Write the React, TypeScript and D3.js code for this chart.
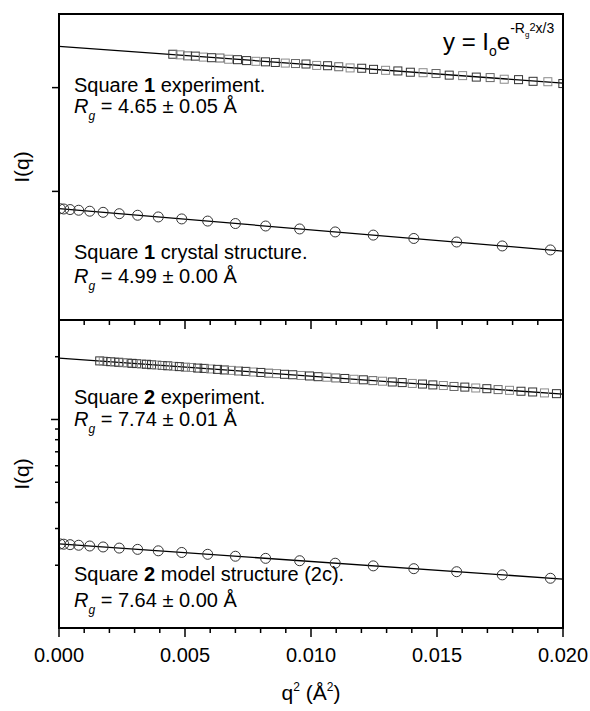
import * as d3 from "d3";

// q^2 positions of the computed (structure) curves, shared by both panels
const q2Model = [
  0.00005, 0.00019, 0.00044, 0.00078, 0.00122, 0.00175, 0.00239, 0.00312, 0.00394, 0.00487,
  0.0059, 0.007, 0.0082, 0.00955, 0.01096, 0.01247, 0.01408, 0.01578, 0.01759, 0.0195,
];
const iCrystal1 = [
  1.869, 1.867, 1.863, 1.858, 1.851, 1.843, 1.833, 1.822, 1.81, 1.796,
  1.781, 1.764, 1.747, 1.727, 1.707, 1.686, 1.664, 1.641, 1.616, 1.591,
];
const iModel2 = [
  0.253, 0.2523, 0.251, 0.2494, 0.2473, 0.2447, 0.2417, 0.2383, 0.2345, 0.2303,
  0.2257, 0.2209, 0.2158, 0.2102, 0.2045, 0.1986, 0.1925, 0.1862, 0.1798, 0.1732,
];

// square 1 experiment
const q2Exp1 = [
  0.004516, 0.004805, 0.005104, 0.005411, 0.005727, 0.006053, 0.006387, 0.006731, 0.007083,
  0.007444, 0.007815, 0.008194, 0.008582, 0.008979, 0.009386, 0.009801, 0.010225, 0.010658,
  0.011101, 0.011552, 0.012012, 0.012481, 0.01296, 0.013447, 0.013943, 0.014448, 0.014962,
  0.015485, 0.016017, 0.016559, 0.017109, 0.017668, 0.018236, 0.018813, 0.019399, 0.019994,
];
const iExp1 = [
  3.418, 3.41, 3.396, 3.393, 3.38, 3.372, 3.368, 3.352, 3.346,
  3.334, 3.325, 3.318, 3.31, 3.302, 3.296, 3.29, 3.272, 3.268,
  3.255, 3.24, 3.236, 3.222, 3.21, 3.202, 3.186, 3.18, 3.17,
  3.15, 3.144, 3.126, 3.12, 3.1, 3.095, 3.075, 3.07, 3.048,
];

// square 2 experiment
const q2Exp2 = [
  0.001616, 0.001756, 0.001901, 0.002052, 0.002209, 0.002372, 0.00254, 0.002714, 0.002894, 0.00308,
  0.003272, 0.003469, 0.003672, 0.003881, 0.004096, 0.004316, 0.004543, 0.004775, 0.005013, 0.005256,
  0.005506, 0.005761, 0.006022, 0.006288, 0.006561, 0.006839, 0.007123, 0.007413, 0.007709, 0.00801,
  0.008317, 0.00863, 0.008949, 0.009274, 0.009604, 0.00994, 0.010282, 0.01063, 0.010983, 0.011342,
  0.011707, 0.012078, 0.012455, 0.012837, 0.013225, 0.013619, 0.014019, 0.014424, 0.014835, 0.015252,
  0.015675, 0.016104, 0.016538, 0.016978, 0.017424, 0.017876, 0.018333, 0.018796, 0.019265, 0.01974,
];
const iExp2 = [
  1.91, 1.904, 1.897, 1.893, 1.885, 1.881, 1.873, 1.868, 1.859, 1.854,
  1.845, 1.84, 1.831, 1.825, 1.815, 1.809, 1.799, 1.793, 1.782, 1.776,
  1.764, 1.758, 1.747, 1.739, 1.728, 1.72, 1.708, 1.701, 1.689, 1.681,
  1.668, 1.66, 1.647, 1.639, 1.626, 1.617, 1.604, 1.595, 1.582, 1.573,
  1.559, 1.55, 1.536, 1.526, 1.513, 1.503, 1.489, 1.479, 1.465, 1.455,
  1.44, 1.43, 1.416, 1.405, 1.391, 1.38, 1.366, 1.355, 1.341, 1.33,
];

// Guinier fit lines (straight on a log axis), end points
const fitQ2 = [0, 0.02];
const fitExp1 = [3.526, 3.053];
const fitCrystal1 = [1.87, 1.584];
const fitExp2 = [1.971, 1.322];
const fitModel2 = [0.2532, 0.1716];

const xMajorTicks = [0, 0.005, 0.01, 0.015, 0.02];
const xTickLabels = ["0.000", "0.005", "0.010", "0.015", "0.020"];
const topYTicks = [2, 3];
const botYMajor = [1];
const botYMinor = [0.2, 0.3, 0.4, 0.5, 0.6, 0.7, 0.8, 0.9, 2];

const W = 590;
const H = 711;
const left = 59;
const right = 563;
const top = 14;
const mid = 320;
const bottom = 628;
const font = "'Liberation Sans', Arial, Helvetica, sans-serif";

const x = d3.scaleLinear().domain([0, 0.02]).range([left, right]);
const xMinor = x.ticks(20);
const yTop = d3.scaleLog().domain([1.21, 4]).range([mid, top]);
const yBot = d3.scaleLog().domain([0.1, 3]).range([bottom, mid]);

function Squares({ xs, ys, y, clip }) {
  return (
    <g clipPath={`url(#${clip})`}>
      {xs.map((q, i) => (
        <rect
          key={i}
          x={x(q) - 4}
          y={y(ys[i]) - 4}
          width={8}
          height={8}
          fill="none"
          stroke={i % 3 === 1 ? "#8a8a8a" : i % 4 === 2 ? "#666" : "#333"}
          strokeWidth={1}
        />
      ))}
    </g>
  );
}

function Circles({ xs, ys, y, clip }) {
  return (
    <g clipPath={`url(#${clip})`}>
      {xs.map((q, i) => (
        <circle key={i} cx={x(q)} cy={y(ys[i])} r={5} fill="none" stroke="#333" strokeWidth={1} />
      ))}
    </g>
  );
}

function Fit({ ys, y, clip }) {
  const line = d3
    .line<number>()
    .x((q) => x(q))
    .y((q, i) => y(ys[i]));
  return <path d={line(fitQ2) || ""} clipPath={`url(#${clip})`} fill="none" stroke="#000" strokeWidth={1.3} />;
}

function XTicks({ y0 }) {
  return (
    <g stroke="#000" strokeWidth={1.5}>
      {xMinor.map((t, i) => {
        const major = xMajorTicks.some((m) => Math.abs(m - t) < 1e-9);
        return <line key={i} x1={x(t)} x2={x(t)} y1={y0} y2={y0 + (major ? 9 : 5)} />;
      })}
    </g>
  );
}

function RgLabel({ xPos, yPos, value }) {
  return (
    <text x={xPos} y={yPos} fontSize={20} fontFamily={font}>
      <tspan fontStyle="italic">R</tspan>
      <tspan fontStyle="italic" fontSize={12} dy={7}>g</tspan>
      <tspan dy={-7}>{` = ${value} Å`}</tspan>
    </text>
  );
}

function Title({ xPos, yPos, num, rest }) {
  return (
    <text x={xPos} y={yPos} fontSize={20} fontFamily={font}>
      Square <tspan fontWeight="bold">{num}</tspan> {rest}
    </text>
  );
}

export default function App() {
  return (
    <svg width={W} height={H} style={{ position: "absolute", left: 0, top: 0, background: "#fff" }}>
      <defs>
        <clipPath id="clipTop">
          <rect x={left} y={top} width={right - left} height={mid - top} />
        </clipPath>
        <clipPath id="clipBot">
          <rect x={left} y={mid} width={right - left} height={bottom - mid} />
        </clipPath>
      </defs>

      {/* fit lines and data */}
      <Fit ys={fitExp1} y={yTop} clip="clipTop" />
      <Fit ys={fitCrystal1} y={yTop} clip="clipTop" />
      <Fit ys={fitExp2} y={yBot} clip="clipBot" />
      <Fit ys={fitModel2} y={yBot} clip="clipBot" />
      <Squares xs={q2Exp1} ys={iExp1} y={yTop} clip="clipTop" />
      <Circles xs={q2Model} ys={iCrystal1} y={yTop} clip="clipTop" />
      <Squares xs={q2Exp2} ys={iExp2} y={yBot} clip="clipBot" />
      <Circles xs={q2Model} ys={iModel2} y={yBot} clip="clipBot" />

      {/* frames */}
      <rect x={left} y={top} width={right - left} height={mid - top} fill="none" stroke="#000" strokeWidth={2} />
      <rect x={left} y={mid} width={right - left} height={bottom - mid} fill="none" stroke="#000" strokeWidth={2} />

      {/* x ticks on both panel bottoms */}
      <XTicks y0={mid} />
      <XTicks y0={bottom} />
      {xMajorTicks.map((t, i) => (
        <text key={i} x={x(t)} y={662} textAnchor="middle" fontSize={20} fontFamily={font}>
          {xTickLabels[i]}
        </text>
      ))}

      {/* y ticks */}
      <g stroke="#000" strokeWidth={1.5}>
        {topYTicks.map((t) => (
          <line key={t} x1={left - 7} x2={left} y1={yTop(t)} y2={yTop(t)} />
        ))}
        {botYMajor.map((t) => (
          <line key={t} x1={left - 8} x2={left} y1={yBot(t)} y2={yBot(t)} />
        ))}
        {botYMinor.map((t) => (
          <line key={t} x1={left - 4} x2={left} y1={yBot(t)} y2={yBot(t)} />
        ))}
      </g>

      {/* axis titles */}
      <text transform={`translate(29,${(top + mid) / 2}) rotate(-90)`} textAnchor="middle" fontSize={21} fontFamily={font}>
        I(q)
      </text>
      <text transform={`translate(29,${(mid + bottom) / 2}) rotate(-90)`} textAnchor="middle" fontSize={21} fontFamily={font}>
        I(q)
      </text>
      <text x={x(0.01)} y={700} textAnchor="middle" fontSize={21} fontFamily={font}>
        q<tspan fontSize={12} dy={-9}>2</tspan>
        <tspan dy={9}> (Å</tspan>
        <tspan fontSize={12} dy={-9}>2</tspan>
        <tspan dy={9}>)</tspan>
      </text>

      {/* equation */}
      <text x={443} y={50} fontSize={24} fontFamily={font}>
        y = I<tspan fontSize={14} dy={6}>o</tspan>
        <tspan dy={-6}>e</tspan>
        <tspan fontSize={14} dy={-17}>-R</tspan>
        <tspan fontSize={8} dy={4}>g</tspan>
        <tspan fontSize={11} dy={-6}>2</tspan>
        <tspan fontSize={14} dy={2}>x/3</tspan>
      </text>

      {/* annotations */}
      <Title xPos={74} yPos={92} num="1" rest="experiment." />
      <RgLabel xPos={74} yPos={113} value="4.65 ± 0.05" />
      <Title xPos={74} yPos={259} num="1" rest="crystal structure." />
      <RgLabel xPos={74} yPos={283} value="4.99 ± 0.00" />
      <Title xPos={74} yPos={404} num="2" rest="experiment." />
      <RgLabel xPos={74} yPos={426} value="7.74 ± 0.01" />
      <Title xPos={74} yPos={581} num="2" rest="model structure (2c)." />
      <RgLabel xPos={74} yPos={607} value="7.64 ± 0.00" />
    </svg>
  );
}
